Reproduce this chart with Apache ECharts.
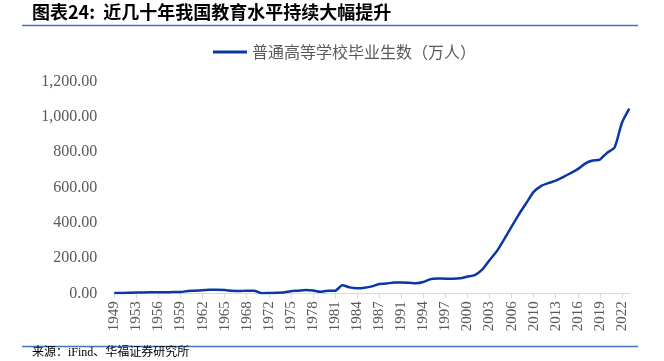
<!DOCTYPE html>
<html>
<head>
<meta charset="utf-8">
<script src="https://cdn.jsdelivr.net/npm/echarts@6/dist/echarts.min.js"></script>
<style>html,body{margin:0;padding:0;background:#fff;}#c{width:664px;height:361px;}</style>
</head>
<body>
<div id="c"></div>
<script>
var titleText = '图表24:  近几十年我国教育水平持续大幅提升';
var sourceText = '来源：iFind、华福证券研究所';
var seriesName = '普通高等学校毕业生数（万人）';
var years = ['1949','1951','1952','1953','1954','1955','1956','1957','1958','1959','1960','1961','1962','1963','1964','1965','1966','1967','1968','1969','1971','1972','1973','1974','1975','1976','1977','1978','1979','1980','1981','1982','1983','1984','1985','1986','1987','1988','1990','1991','1992','1993','1994','1995','1996','1997','1998','1999','2000','2001','2002','2003','2004','2005','2006','2007','2008','2010','2011','2012','2013','2014','2015','2016','2017','2018','2019','2020','2021','2022','2023'];
var graduates = [2.1,1.9,3.2,4.8,4.7,5.5,6.3,5.6,7.2,7.0,13.6,15.1,17.7,19.9,20.4,18.6,14.1,12.5,15.0,15.0,0.6,1.7,3.0,4.3,11.9,14.9,19.4,16.5,8.5,14.7,14.0,45.7,33.5,28.7,31.6,39.3,53.2,55.3,61.4,61.4,60.4,57.1,63.7,80.5,83.9,82.9,83.0,84.8,95.0,103.6,133.7,187.7,239.1,306.8,377.5,447.8,511.9,575.4,608.2,624.7,638.7,659.4,680.9,704.2,735.8,753.3,758.5,797.2,826.5,967.3,1047.0];

var chart = echarts.init(document.getElementById('c'), null, {renderer: 'canvas'});
var serif = '"Liberation Serif", "Times New Roman", "Noto Sans CJK SC", serif';
chart.setOption({
  animation: false,
  backgroundColor: '#ffffff',
  graphic: [
    {type: 'text', left: 32, top: 3, style: {text: titleText, font: 'bold 18px "Noto Sans CJK SC", sans-serif', fill: '#000'}},
    {type: 'line', shape: {x1: 22, y1: 25.5, x2: 638, y2: 25.5}, style: {stroke: '#4472C4', lineWidth: 1.5}},
    {type: 'line', shape: {x1: 22, y1: 346.5, x2: 638, y2: 346.5}, style: {stroke: '#4472C4', lineWidth: 1.5}},
    {type: 'text', left: 32, top: 347, style: {text: sourceText, font: '12px "Liberation Serif", "Noto Sans CJK SC", serif', fill: '#000'}}
  ],
  legend: {
    left: 208, top: 39,
    icon: 'rect', itemWidth: 34, itemHeight: 3, itemGap: 5,
    textStyle: {color: '#595959', fontSize: 16, fontFamily: '"Noto Sans CJK SC", sans-serif'},
    data: [seriesName]
  },
  grid: {left: 114.3, right: 34.7, top: 81.7, bottom: 67.7, containLabel: false},
  xAxis: {
    type: 'category', data: years, boundaryGap: false,
    axisLine: {lineStyle: {color: '#d9d9d9', width: 1}},
    axisTick: {interval: 2, length: 5, lineStyle: {color: '#d9d9d9'}},
    axisLabel: {interval: 2, rotate: 90, margin: 8, color: '#595959', fontSize: 15, fontFamily: serif}
  },
  yAxis: {
    type: 'value', min: 0, max: 1200, interval: 200,
    axisLine: {show: false}, axisTick: {show: false}, splitLine: {show: false},
    axisLabel: {margin: 17, color: '#595959', fontSize: 16, fontFamily: serif,
      formatter: function (v) { return v.toLocaleString('en-US', {minimumFractionDigits: 2, maximumFractionDigits: 2}); }}
  },
  series: [{
    name: seriesName, type: 'line', data: graduates,
    showSymbol: false, symbol: 'none', smooth: 0.2,
    lineStyle: {color: '#0A37A5', width: 2.5}, itemStyle: {color: '#0A37A5'}
  }]
});
</script>
</body>
</html>
